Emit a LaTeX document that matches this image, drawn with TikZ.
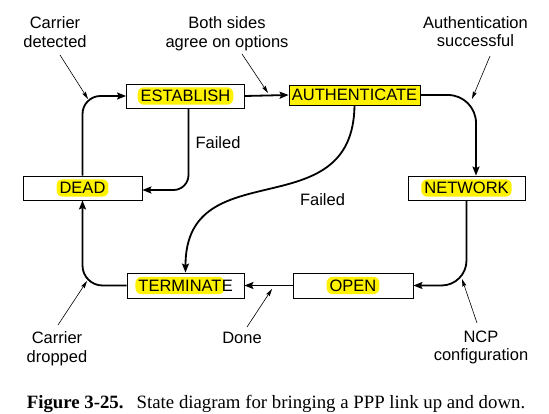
\documentclass[tikz,border=0pt]{standalone}
\usepackage{fontspec}
\usetikzlibrary{arrows.meta}
\newfontfamily\labfont{Liberation Sans}
\newfontfamily\capfont{Liberation Serif}
\newcommand{\labsize}{\labfont\fontsize{16.5}{18.5}\selectfont}
\tikzset{
  flow/.style={line width=1.8pt, -{Stealth[length=9pt,width=7pt,inset=1.5pt]}},
  ptr/.style={line width=0.6pt, -{Stealth[length=7.5pt,width=4pt,inset=1pt]}},
  statebox/.style={draw, line width=0.8pt, minimum height=24pt, inner sep=0pt},
  hl/.style={fill=yellow, rounded corners=6pt, inner xsep=3pt, inner ysep=2.5pt,
             text height=12pt, text depth=0.3pt, font=\labsize},
  plain/.style={inner xsep=0pt, inner ysep=2.5pt, text height=12pt, text depth=0.3pt, font=\labsize},
  lbl/.style={font=\labsize, align=center, inner sep=0pt, anchor=north},
}
\begin{document}
\begin{tikzpicture}[x=1pt,y=-1pt]
\useasboundingbox (0,0) rectangle (549,414);

% state boxes
\node[statebox, minimum width=118pt] (est) at (185.5,96) {};
\node[statebox, minimum width=131pt, minimum height=20pt, fill=yellow] (auth) at (354.5,95) {};
\node[statebox, minimum width=117pt] (net) at (466.5,188) {};
\node[statebox, minimum width=119pt] (dead) at (82.5,188) {};
\node[statebox, minimum width=117pt, minimum height=25pt] (term) at (185.5,285.5) {};
\node[statebox, minimum width=120pt, minimum height=25pt] (open) at (353,285.5) {};

% state names
\node[hl] (estT) at (est) {ESTABLISH};
\node[plain] (authT) at (auth) {AUTHENTICATE};
\node[hl] (netT) at (net) {NETWORK};
\node[hl] (deadT) at (dead) {DEAD};
\node[hl] (openT) at (open) {OPEN};
\node[hl] (termT) at (180,285.5) {TERMINAT};
\node[plain, anchor=west, xshift=-3pt] (termE) at (termT.east) {E};

% main transitions
\draw[flow, rounded corners=18pt] (dead.north) |- (est.west);
\draw[flow, rounded corners=15pt] ([xshift=3pt]est.south) |- ([yshift=-2pt]dead.east);
\draw[flow] (est.east) -- (auth.west);
\draw[flow, rounded corners=28pt] (auth.east) -| ([xshift=9.5pt]net.north);
\draw[flow] (auth.south) .. controls (353,230) and (185.5,150) .. (term.north);
\draw[flow, rounded corners=25pt] (net.south) |- (open.east);
\draw[flow] (open.west) -- (term.east);
\draw[flow, rounded corners=20pt] (term.west) -| (dead.south);

% labels
\node[lbl] (cd) at (55,16.5) {Carrier\\detected};
\node[lbl] (bs) at (227,16.5) {Both sides\\agree on options};
\node[lbl] (as) at (475.5,16) {Authentication\\successful};
\node[lbl] (f1) at (218,136.5) {Failed};
\node[lbl] (f2) at (322.5,193.5) {Failed};
\node[lbl] (cdr) at (57,331.5) {Carrier\\dropped};
\node[lbl] (dn) at (242,331.5) {Done};
\node[lbl] (ncp) at (481,330.5) {NCP\\configuration};

% pointers
\coordinate (cdA) at (60,55);   \coordinate (cdB) at (88,99);
\coordinate (bsA) at (242,54);  \coordinate (bsB) at (268,93);
\coordinate (asA) at (490,56);  \coordinate (asB) at (472,99);
\coordinate (cdrA) at (58,325); \coordinate (cdrB) at (87,281);
\coordinate (dnA) at (247,327); \coordinate (dnB) at (272,289);
\coordinate (ncpA) at (477,323);\coordinate (ncpB) at (462,279);
\draw[ptr] (cdA) -- (cdB);
\draw[ptr] (bsA) -- (bsB);
\draw[ptr] (asA) -- (asB);
\draw[ptr] (cdrA) -- (cdrB);
\draw[ptr] (dnA) -- (dnB);
\draw[ptr] (ncpA) -- (ncpB);

% caption
\node[anchor=base, inner sep=0pt, font=\capfont\fontsize{18.8}{21}\selectfont] (cap) at (276,408)
  {\textbf{Figure 3-25.}\hspace{0.7em}State diagram for bringing a PPP link up and down.};
\end{tikzpicture}
\end{document}
